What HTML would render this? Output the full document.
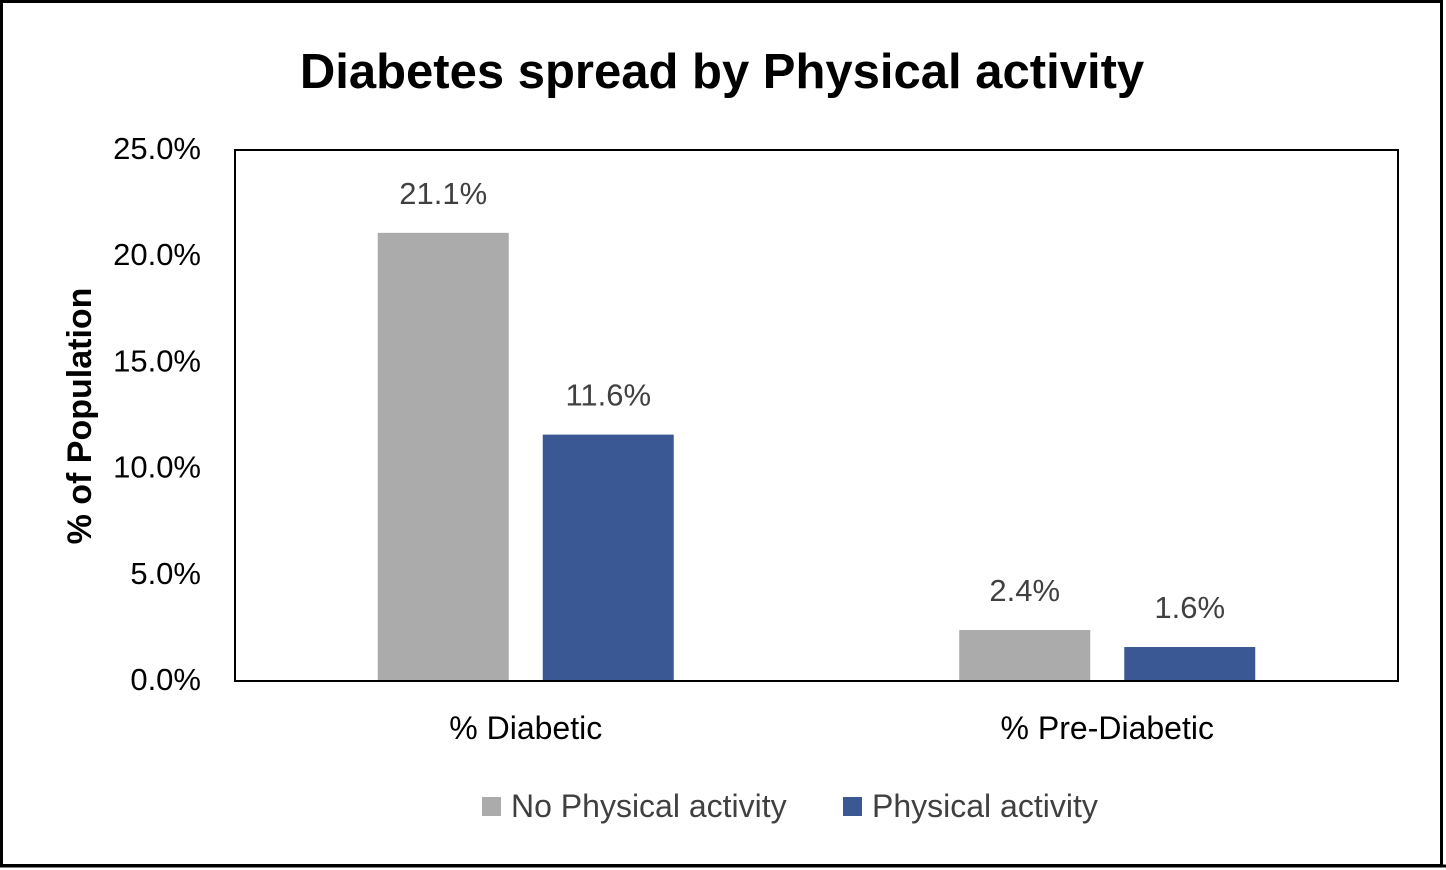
<!DOCTYPE html>
<html><head><meta charset="utf-8"><style>
html,body{margin:0;padding:0;background:#fff;}
svg{display:block;font-family:"Liberation Sans",sans-serif;}
</style></head><body>
<svg id="chart" width="1446" height="870">
<rect x="1.5" y="1.5" width="1440" height="864" fill="#fff" stroke="#000" stroke-width="3"/>
<line x1="0" y1="866" x2="1446" y2="866" stroke="#000" stroke-width="3"/>
<text x="722" y="88" text-anchor="middle" font-size="49" font-weight="bold" fill="#000">Diabetes spread by Physical activity</text>
<text transform="translate(91,416) rotate(-90)" text-anchor="middle" font-size="34" font-weight="bold" fill="#000">% of Population</text>
<g id="yticks"></g>
<g id="bars"></g>
<rect x="235" y="150" width="1163" height="531" fill="none" stroke="#000" stroke-width="2"/>
<g id="xlabels"></g>
<g>
<rect x="482" y="797" width="19" height="19" fill="#ababab"/>
<text x="511" y="817" font-size="32" fill="#404040">No Physical activity</text>
<rect x="843" y="797" width="19" height="19" fill="#3a5893"/>
<text x="872" y="817" font-size="32" fill="#404040">Physical activity</text>
</g>
</svg>
<script>
const categories = ["% Diabetic", "% Pre-Diabetic"];
const noActivity = [21.1, 2.4];
const activity = [11.6, 1.6];
const yTicks = [0, 5, 10, 15, 20, 25];
const NS = "http://www.w3.org/2000/svg";
const px0 = 235, px1 = 1398, py0 = 681, py1 = 150, yMax = 25;
function y(v){ return py0 - (v / yMax) * (py0 - py1); }
const bandW = (px1 - px0) / categories.length;
function bandCenter(i){ return px0 + bandW * (i + 0.5); }
function mk(tag, attrs, parent){ const e = document.createElementNS(NS, tag); for (const k in attrs) e.setAttribute(k, attrs[k]); parent.appendChild(e); return e; }
const yt = document.getElementById("yticks");
yTicks.forEach(t => {
  const e = mk("text", {x: 201, y: y(t) + 9, "text-anchor": "end", "font-size": 31, fill: "#000"}, yt);
  e.textContent = t.toFixed(1) + "%";
  
  
});
const bars = document.getElementById("bars");
const barW = 131, gap = 34;
const series = [{vals: noActivity, color: "#ababab", off: -(gap/2 + barW), name: "no-activity"},
                {vals: activity, color: "#3a5893", off: gap/2, name: "activity"}];
categories.forEach((c, i) => {
  const cx = bandCenter(i);
  series.forEach(s => {
    const v = s.vals[i];
    const r = mk("rect", {x: cx + s.off, y: y(v), width: barW, height: py0 - y(v), fill: s.color}, bars);
    
    
    const l = mk("text", {x: cx + s.off + barW/2, y: y(v) - 29, "text-anchor": "middle", "font-size": 31, fill: "#404040"}, bars);
    l.textContent = v.toFixed(1) + "%";
    
    
  });
  const xl = mk("text", {x: cx, y: 739, "text-anchor": "middle", "font-size": 32, fill: "#000"}, document.getElementById("xlabels"));
  xl.textContent = c;
  
  
});
</script>
</body></html>
